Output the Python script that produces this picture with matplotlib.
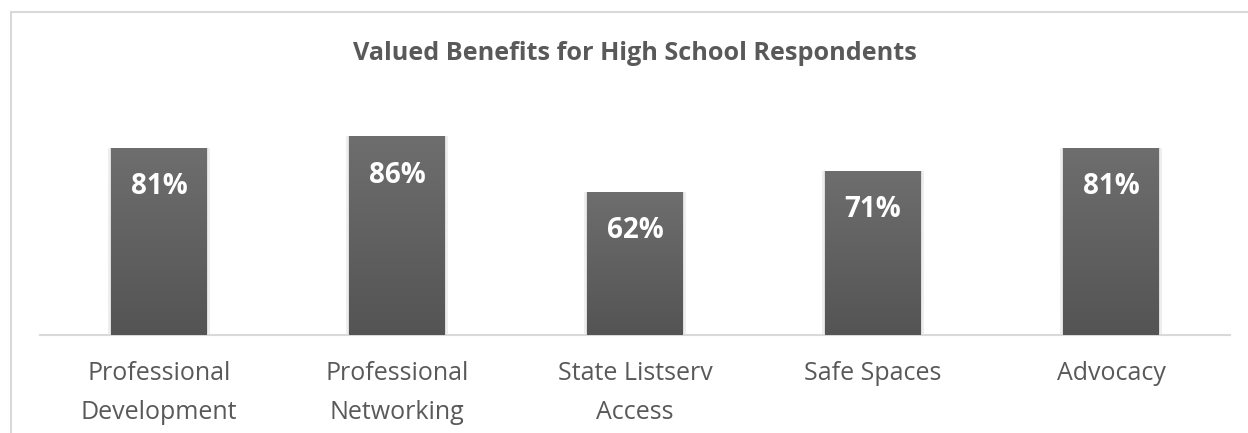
import numpy as np
import matplotlib
matplotlib.use("Agg")
from matplotlib import pyplot as plt
from matplotlib.patches import Rectangle

categories = ["Professional\nDevelopment", "Professional\nNetworking",
              "State Listserv\nAccess", "Safe Spaces", "Advocacy"]
values = [81, 86, 62, 71, 81]
value_labels = ["81%", "86%", "62%", "71%", "81%"]

plt.rcParams['font.family'] = ['Open Sans', 'DejaVu Sans']

W, H = 1248, 433
fig = plt.figure(figsize=(W / 100, H / 100), dpi=100)
fig.patch.set_facecolor('white')

# outer chart frame (cut off at right and bottom)
fig.add_artist(Rectangle((10.5 / W, -0.1), 1.2, (H - 11.5) / H + 0.1,
                         transform=fig.transFigure, fill=False,
                         edgecolor='#d9d9d9', linewidth=1.5))

ax = fig.add_axes([40 / W, (H - 335) / H, 1190 / W, 231 / H])
x = np.arange(len(categories))

# soft shadow behind bars
ax.bar(x, values, width=0.43, color='#d0d0d0', alpha=0.35, zorder=1)
ax.bar(x, values, width=0.415, color='#c0c0c0', alpha=0.35, zorder=1)
bars = ax.bar(x, values, width=0.40, color='#5e5e5e', zorder=2)

grad = np.linspace(0, 1, 256).reshape(-1, 1)
cmap = matplotlib.colors.LinearSegmentedColormap.from_list('g', ['#545454', '#6e6e6e'])
for b in bars:
    bx, by = b.get_x(), b.get_y()
    im = ax.imshow(grad, cmap=cmap, aspect='auto', origin='lower',
                   extent=[bx, bx + b.get_width(), by, by + b.get_height()], zorder=3)
    im.set_clip_path(b)

for xi, v, lab in zip(x, values, value_labels):
    ax.annotate(lab, (xi, v), xytext=(0, -28), textcoords='offset points',
                ha='center', va='center', color='white', fontsize=20,
                fontweight='bold', zorder=4)

ax.set_xlim(-0.5, len(categories) - 0.5)
ax.set_ylim(0, 100)
for s in ['top', 'right', 'left']:
    ax.spines[s].set_visible(False)
ax.spines['bottom'].set_color('#d9d9d9')
ax.spines['bottom'].set_linewidth(1.5)
ax.set_yticks([])
ax.set_xticks(x)
ax.set_xticklabels(categories, fontsize=18, color='#595959', linespacing=1.7)
ax.tick_params(axis='x', length=0, pad=19)

fig.text(635 / W, (H - 53) / H, "Valued Benefits for High School Respondents",
         ha='center', va='center', fontsize=18.2, fontweight='bold', color='#595959')

fig.savefig("out.png", dpi=100, facecolor='white')
